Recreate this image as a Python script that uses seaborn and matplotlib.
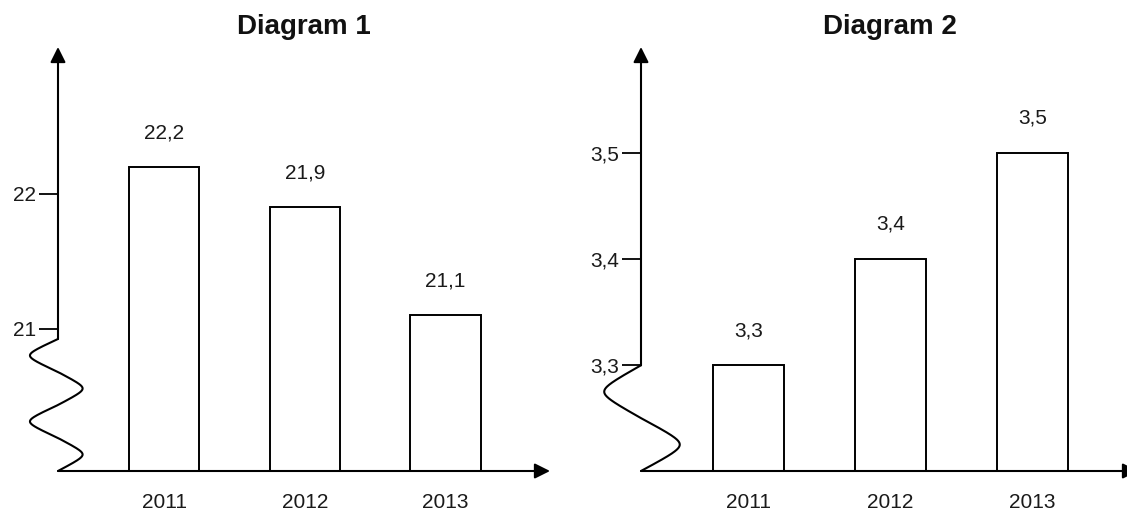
import numpy as np
import pandas as pd
import matplotlib
matplotlib.use("Agg")
import matplotlib.pyplot as plt
import seaborn as sns

# ---- data ----
years = ["2011", "2012", "2013"]
values_1 = [22.2, 21.9, 21.1]
labels_1 = ["22,2", "21,9", "21,1"]
ticks_1 = [21, 22]
ticklabels_1 = ["21", "22"]

values_2 = [3.3, 3.4, 3.5]
labels_2 = ["3,3", "3,4", "3,5"]
ticks_2 = [3.3, 3.4, 3.5]
ticklabels_2 = ["3,3", "3,4", "3,5"]

titles = ["Diagram 1", "Diagram 2"]

sns.set_theme(style="white")
plt.rcParams["font.family"] = ["Liberation Sans", "DejaVu Sans"]
plt.rcParams["text.color"] = "#1a1a1a"

fig = plt.figure(figsize=(11.27, 5.13), dpi=100)
W, H = 1127, 513

def add_ax(x0, x1, y_bottom, y_top):
    return fig.add_axes([x0 / W, (H - y_bottom) / H, (x1 - x0) / W, (y_bottom - y_top) / H])

ax1 = add_ax(58, 550, 471, 47)
ax2 = add_ax(641, 1138, 471, 47)

panels = [
    (ax1, values_1, labels_1, ticks_1, ticklabels_1, (19.946, 23.09), 20.925, 2, (0.057, 0.050)),
    (ax2, values_2, labels_2, ticks_2, ticklabels_2, (3.2005, 3.5995), 3.3, 1, (0.074, 0.078)),
]

for i, (ax, vals, labs, ticks, tlabs, ylim, brk, nwaves, amps) in enumerate(panels):
    df = pd.DataFrame({"year": years, "value": vals})
    sns.barplot(data=df, x="year", y="value", ax=ax, color="white",
                edgecolor="black", linewidth=1.4, width=0.5, saturation=1)
    ax.set_xlim(-0.755, 2.743)
    ax.set_ylim(*ylim)
    for s in ax.spines.values():
        s.set_visible(False)
    ax.set_facecolor("none")
    ax.set_xlabel("")
    ax.set_ylabel("")
    ax.set_yticks(ticks)
    ax.set_yticklabels(tlabs)
    ax.tick_params(axis="y", left=True, length=13.5, width=1.3, pad=2,
                   labelsize=15, colors="black", labelcolor="#1a1a1a")
    ax.tick_params(axis="x", bottom=False, length=0, pad=16, labelsize=15,
                   labelcolor="#1a1a1a")
    ax.bar_label(ax.containers[0], labels=labs, padding=18, fontsize=15,
                 color="#1a1a1a")
    ax.set_title(titles[i], fontsize=20, fontweight="bold", pad=9, color="#111111")

    arrow = dict(arrowstyle="-|>", lw=1.5, color="black", mutation_scale=23,
                 shrinkA=0, shrinkB=0)
    # x axis
    ax.annotate("", xy=(1, 0), xytext=(0, 0), xycoords="axes fraction",
                textcoords="axes fraction", arrowprops=arrow, annotation_clip=False)
    # y axis (above the break)
    ax.annotate("", xy=(0, 1), xytext=(0, brk), xycoords="axes fraction",
                textcoords=("axes fraction", "data"), arrowprops=arrow,
                annotation_clip=False)
    # axis-break squiggle (rounded zigzag)
    t = np.linspace(0, 1, 400)
    ys = ylim[0] + (brk - ylim[0]) * (1 - t)
    s = np.arcsin(0.9 * np.sin(2 * np.pi * nwaves * t)) / np.arcsin(0.9)
    xs = np.where(s > 0, -amps[0] * s, -amps[1] * s)
    ax.plot(xs, ys, color="black", lw=1.5, transform=ax.get_yaxis_transform(),
            clip_on=False, solid_capstyle="round", solid_joinstyle="round")

fig.savefig("out.png", dpi=100, facecolor="white")
